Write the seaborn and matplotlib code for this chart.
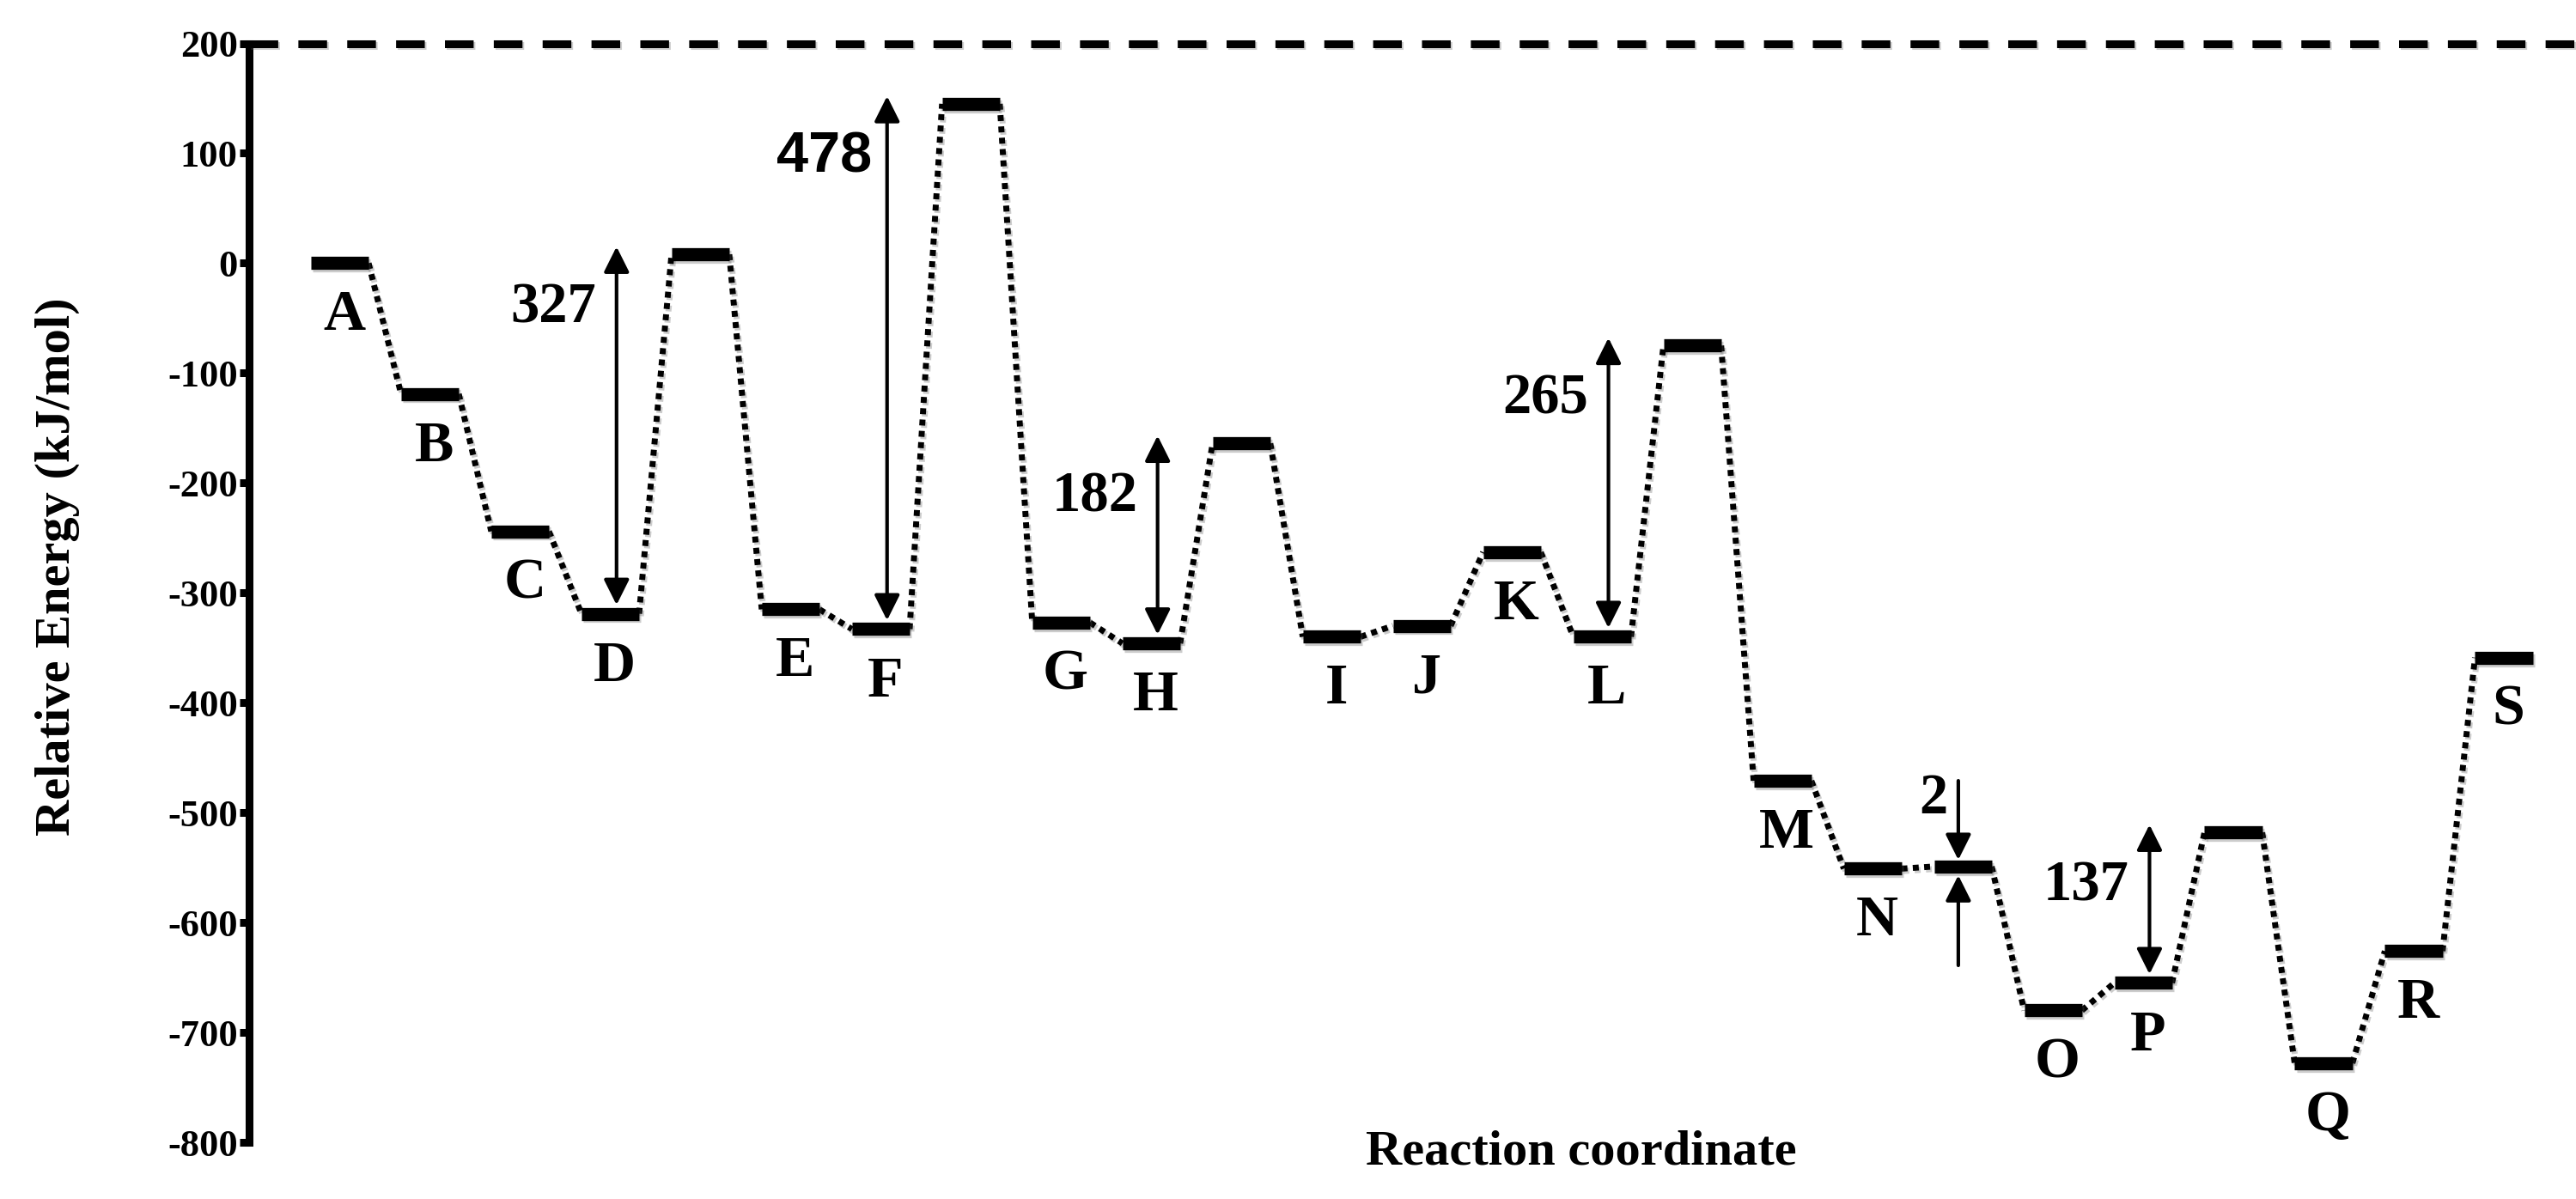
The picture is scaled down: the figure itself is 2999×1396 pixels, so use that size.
import numpy as np
import pandas as pd
import matplotlib
matplotlib.use("Agg")
import matplotlib.pyplot as plt
import matplotlib.patheffects as pe
import seaborn as sns

# ---------------- data ----------------
states = ["A", "B", "C", "D", "TS1", "E", "F", "TS2", "G", "H", "TS3", "I", "J",
          "K", "L", "TS4", "M", "N", "N2", "O", "P", "TS5", "Q", "R", "S"]
state_labels = ["A", "B", "C", "D", "", "E", "F", "", "G", "H", "", "I", "J",
                "K", "L", "", "M", "N", "", "O", "P", "", "Q", "R", "S"]
energies = [0, -119, -244, -319, 8, -315, -333, 145, -327, -346, -164, -340, -330,
            -263, -340, -75, -471, -551, -549, -680, -655, -518, -728, -626, -359]

barrier_from = ["D", "F", "H", "L", "P"]
barrier_values = [327, 478, 182, 265, 137]
small_gap_state = "N2"
small_gap_value = 2

yticks = [200, 100, 0, -100, -200, -300, -400, -500, -600, -700, -800]
ytick_labels = ["200", "100", "0", "-100", "-200", "-300", "-400", "-500",
                "-600", "-700", "-800"]
reference_level = 200

ylabel = "Relative Energy (kJ/mol)"
xlabel = "Reaction coordinate"

# ---------------- build tables ----------------
hw = 0.32
pos = {s: i for i, s in enumerate(states)}
E = dict(zip(states, energies))

bar_rows = []
for i, (s, e) in enumerate(zip(states, energies)):
    bar_rows.append({"state": s, "x": i - hw, "E": e})
    bar_rows.append({"state": s, "x": i + hw, "E": e})
bars_df = pd.DataFrame(bar_rows)

conn_rows = []
for i in range(len(states) - 1):
    conn_rows.append({"seg": i, "x": i + hw, "E": energies[i]})
    conn_rows.append({"seg": i, "x": i + 1 - hw, "E": energies[i + 1]})
conn_df = pd.DataFrame(conn_rows)

# ---------------- style ----------------
sns.set_theme(style="ticks")
plt.rcParams["font.family"] = ["Liberation Serif", "DejaVu Serif"]
plt.rcParams["font.weight"] = "bold"
plt.rcParams["axes.labelweight"] = "bold"
plt.rcParams["text.color"] = "black"
plt.rcParams["axes.labelcolor"] = "black"
plt.rcParams["xtick.color"] = "black"
plt.rcParams["ytick.color"] = "black"
plt.rcParams["axes.edgecolor"] = "black"
plt.rcParams["lines.solid_capstyle"] = "butt"
plt.rcParams["lines.dash_capstyle"] = "butt"

W, H = 2999, 1396
fig = plt.figure(figsize=(W / 100, H / 100), dpi=100)
ax = fig.add_axes([290 / W, 66 / H, (W - 290) / W, 1279.5 / H])

shadow = [pe.SimpleLineShadow(offset=(1.5, -2), shadow_color="0.35", alpha=0.3), pe.Normal()]

sns.lineplot(data=conn_df, x="x", y="E", units="seg", estimator=None, sort=False,
             color="black", lw=5, linestyle=(0, (1, 0.9)), legend=False, ax=ax,
             path_effects=shadow)
sns.lineplot(data=bars_df, x="x", y="E", units="state", estimator=None, sort=False,
             color="black", lw=11, legend=False, ax=ax, path_effects=shadow)

# top dashed reference line
ax.axhline(reference_level, color="black", lw=6.5, linestyle=(0, (3.7, 2.6)),
           clip_on=False, path_effects=shadow, zorder=3)

# state labels
for i, (lab, e) in enumerate(zip(state_labels, energies)):
    if lab:
        ax.text(i + 0.05, e - 61, lab, ha="center", va="baseline",
                fontsize=49, fontweight="bold", color="black")

# barrier arrows
arrow_kw = dict(arrowstyle="<|-|>,head_length=0.9,head_width=0.45",
                mutation_scale=20, lw=3, color="black", shrinkA=0, shrinkB=0)
for s, b in zip(barrier_from, barrier_values):
    x = pos[s] + 0.07
    low = E[s]
    top = low + b
    ax.annotate("", xy=(x, top + 7), xytext=(x, low + 8), arrowprops=arrow_kw)
    fam = ["Liberation Sans Narrow", "Liberation Sans"] if b == 478 else ["Liberation Serif"]
    ax.text(x - 0.70, top - 62, str(b), ha="center", va="baseline",
            fontsize=48, fontweight="bold", family=fam, color="black")

# small 2 kJ/mol gap arrows
single_kw = dict(arrowstyle="-|>,head_length=0.9,head_width=0.45",
                 mutation_scale=20, lw=3, color="black", shrinkA=0, shrinkB=0)
xs = pos[small_gap_state] - 0.05
lev = E[small_gap_state]
ax.annotate("", xy=(xs, lev + 6), xytext=(xs, lev + 78), arrowprops=single_kw)
ax.annotate("", xy=(xs, lev - 8), xytext=(xs, lev - 90), arrowprops=single_kw)
ax.text(xs - 0.28, lev + 48, str(small_gap_value), ha="center", va="baseline",
        fontsize=48, fontweight="bold", color="black")

# axes
ax.set_xlim(-1.005, 24.80)
ax.set_ylim(-800, 200)
ax.set_xticks([])
ax.set_yticks(yticks, labels=ytick_labels)
ax.tick_params(axis="y", direction="out", length=8, width=6.5, pad=1.5,
               labelsize=32, left=True, colors="black")
for lab in ax.get_yticklabels():
    lab.set_fontweight("bold")
sns.despine(ax=ax, top=True, right=True, bottom=True, left=False)
ax.spines["left"].set_linewidth(6.5)
ax.spines["left"].set_color("black")

ax.set_ylabel(ylabel, fontsize=42, fontweight="bold", va="center", color="black")
ax.yaxis.set_label_coords(-0.0823, 0.524)
ax.set_xlabel(xlabel, fontsize=42, fontweight="bold", va="baseline", color="black")
ax.xaxis.set_label_coords(0.5725, -0.0203)

fig.savefig("out.png", dpi=100)
